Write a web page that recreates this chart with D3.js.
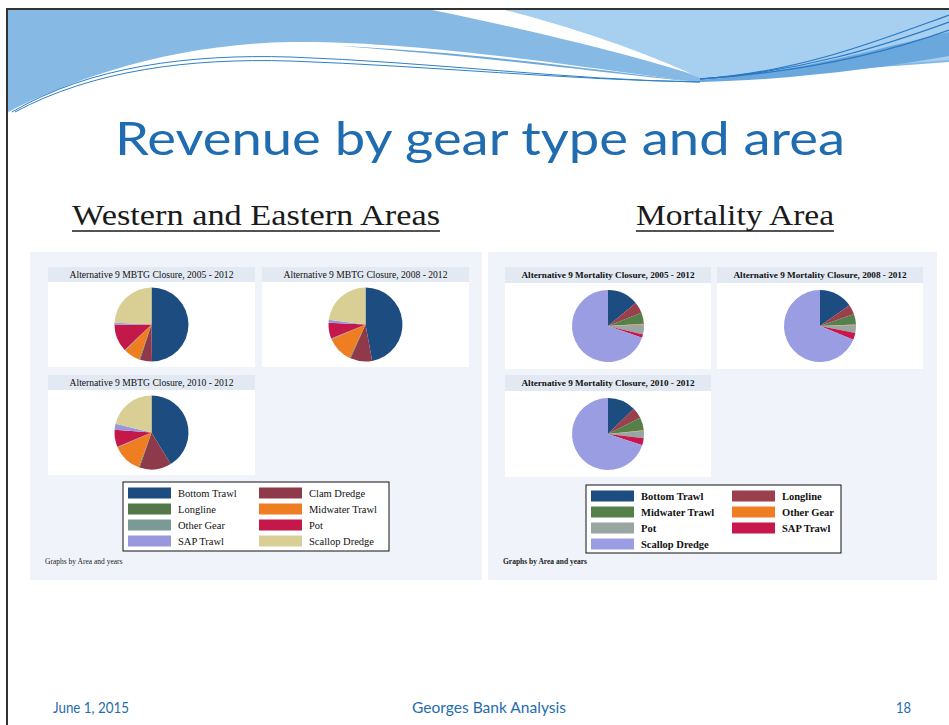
<!DOCTYPE html>
<html lang="en">
<head>
<meta charset="UTF-8">
<title>Revenue by gear type and area</title>
<script src="https://d3js.org/d3.v7.min.js"></script>
<style>
  body { margin: 0; background: #fff; }
  svg { display: block; }
</style>
</head>
<body>
<svg id="slide" width="949" height="725"></svg>
<script>
// ---- data (percent of revenue) ----
const westGears = ["Bottom Trawl", "Clam Dredge", "Longline", "Midwater Trawl", "Other Gear", "Pot", "SAP Trawl", "Scallop Dredge"];
const westColors = ["#1c4c80", "#8f3a4a", "#55784a", "#ef7d22", "#7a9a96", "#c4174a", "#9997dd", "#d9cf95"];
const westTitles = ["Alternative 9 MBTG Closure, 2005 - 2012", "Alternative 9 MBTG Closure, 2008 - 2012", "Alternative 9 MBTG Closure, 2010 - 2012"];
const west0512 = [49.8, 5.2, 0.4, 7.2, 0.3, 12.0, 0.8, 24.3];
const west0812 = [47.1, 9.5, 0.4, 11.5, 0.3, 7.0, 1.2, 23.0];
const west1012 = [41.3, 13.9, 0.4, 12.8, 0.3, 7.5, 2.6, 21.2];

const mortGears = ["Bottom Trawl", "Longline", "Midwater Trawl", "Other Gear", "Pot", "SAP Trawl", "Scallop Dredge"];
const mortColors = ["#1c4c80", "#9a3f4c", "#56804a", "#ef7d22", "#9aa6a2", "#c8174c", "#9b9de2"];
const mortTitles = ["Alternative 9 Mortality Closure, 2005 - 2012", "Alternative 9 Mortality Closure, 2008 - 2012", "Alternative 9 Mortality Closure, 2010 - 2012"];
const mort0512 = [14.0, 5.0, 5.0, 0.3, 4.5, 1.5, 69.7];
const mort0812 = [15.2, 4.4, 4.7, 0.3, 3.5, 3.1, 68.8];
const mort1012 = [12.7, 4.9, 5.7, 0.3, 3.3, 3.1, 70.0];

const svg = d3.select("#slide");
const blue = "#1f6db0";
const serif = "'Liberation Serif', 'DejaVu Serif', serif";

// ---- header wave ----
const head = svg.append("g");
head.append("path").attr("fill", "#86b9e3")
  .attr("d", "M6,10 L949,10 L949,62 C860,68 760,78 696,82 C600,70 420,40 290,42 C170,44 70,80 8,112 Z");
head.append("path").attr("fill", "#a6cff0")
  .attr("d", "M480,10 L949,10 L949,60 C860,66 770,74 700,78 C630,50 560,28 480,10 Z");
head.append("path").attr("fill", "#6fa9da")
  .attr("d", "M340,46 C470,52 600,70 696,82 C610,74 500,58 340,46 Z");
head.append("path").attr("fill", "#fff")
  .attr("d", "M432,10 C530,30 620,52 692,74 C630,46 560,24 505,10 Z");
head.append("path").attr("fill", "#6aa7dc")
  .attr("d", "M700,80 C790,74 880,48 949,32 L949,56 C880,68 790,80 700,82 Z");
[[0, 0], [3, 4]].forEach(([dx, dy]) => {
  head.append("path").attr("fill", "none").attr("stroke", "#2f7fc6").attr("stroke-width", 1)
    .attr("d", `M${12 + dx},${112} C${90 + dx},${66 + dy} ${190},${54 + dy} ${290},${57 + dy} C${430},${62 + dy} ${570},${80} ${700},${82}`);
});
[15, 22, 30].forEach(y => {
  head.append("path").attr("fill", "none").attr("stroke", "#2a78c4").attr("stroke-width", 1.2)
    .attr("d", `M700,79 C800,72 880,${y + 25} 949,${y}`);
});
// scan borders
svg.append("line").attr("x1", 6).attr("x2", 949).attr("y1", 9).attr("y2", 9).attr("stroke", "#333").attr("stroke-width", 2);
svg.append("line").attr("x1", 7).attr("x2", 7).attr("y1", 9).attr("y2", 725).attr("stroke", "#333").attr("stroke-width", 2);

// ---- titles ----
svg.append("text").attr("x", 480).attr("y", 155).attr("text-anchor", "middle")
  .attr("font-family", "Lato, 'Open Sans', sans-serif").attr("font-size", 47)
  .attr("fill", blue).attr("textLength", 730).attr("lengthAdjust", "spacingAndGlyphs")
  .text("Revenue by gear type and area");

function heading(x, w, label) {
  svg.append("text").attr("x", x).attr("y", 225).attr("font-family", serif).attr("font-size", 30)
    .attr("fill", "#1a1a1a").attr("textLength", w).attr("lengthAdjust", "spacingAndGlyphs").text(label);
  svg.append("line").attr("x1", x).attr("x2", x + w).attr("y1", 231).attr("y2", 231)
    .attr("stroke", "#1a1a1a").attr("stroke-width", 1.3);
}
heading(72, 368, "Western and Eastern Areas");
heading(636, 198, "Mortality Area");

// ---- stata style by-graph panel ----
function drawPanel(o) {
  const g = svg.append("g");
  g.append("rect").attr("x", o.x).attr("y", o.y).attr("width", o.w).attr("height", o.h).attr("fill", "#f0f4fa");

  const pie = d3.pie().sort(null).value(d => d);
  const arc = d3.arc().innerRadius(0).outerRadius(o.r);

  o.series.forEach((vals, i) => {
    const cx = o.cells[i][0], cy = o.cells[i][1];
    g.append("rect").attr("x", cx).attr("y", cy).attr("width", o.cw).attr("height", o.sh).attr("fill", "#e3e9f3");
    g.append("rect").attr("x", cx).attr("y", cy + o.sh).attr("width", o.cw).attr("height", o.ph).attr("fill", "#fff");
    g.append("text").attr("x", cx + o.cw / 2).attr("y", cy + 11).attr("text-anchor", "middle")
      .attr("font-family", serif).attr("font-size", o.tsize).attr("font-weight", o.bold ? "bold" : "normal")
      .attr("fill", "#111").text(o.titles[i]);
    g.append("g").attr("transform", `translate(${cx + o.cw / 2},${cy + o.sh + o.ph / 2})`)
      .selectAll("path").data(pie(vals)).join("path")
      .attr("d", arc).attr("fill", (d, j) => o.colors[j]);
  });

  // legend, row-major in two columns
  const L = o.legend;
  g.append("rect").attr("x", L.x).attr("y", L.y).attr("width", L.w).attr("height", L.h)
    .attr("fill", "#fff").attr("stroke", "#111").attr("stroke-width", 1);
  o.gears.forEach((name, j) => {
    const col = j % 2, row = Math.floor(j / 2);
    const sx = col ? L.sx2 : L.sx1, yc = L.y + 11 + row * 16;
    g.append("rect").attr("x", sx).attr("y", yc - 5.5).attr("width", 43).attr("height", 11).attr("fill", o.colors[j]);
    g.append("text").attr("x", sx + 50).attr("y", yc + 4).attr("font-family", serif).attr("font-size", 10.5)
      .attr("font-weight", o.bold ? "bold" : "normal").attr("fill", "#111").text(name);
  });
  g.append("text").attr("x", o.x + 15).attr("y", o.y + 312).attr("font-family", serif).attr("font-size", 7.5)
    .attr("font-weight", o.bold ? "bold" : "normal").attr("fill", "#222").text("Graphs by Area and years");
}

drawPanel({
  x: 30, y: 252, w: 452, h: 328, r: 37, cw: 207, sh: 15, ph: 85, tsize: 9.6, bold: false,
  cells: [[48, 267], [262, 267], [48, 375]],
  series: [west0512, west0812, west1012], titles: westTitles, gears: westGears, colors: westColors,
  legend: { x: 123, y: 482, w: 266, h: 69, sx1: 128, sx2: 259 }
});
drawPanel({
  x: 488, y: 252, w: 449, h: 328, r: 36, cw: 206, sh: 16, ph: 86, tsize: 9.2, bold: true,
  cells: [[505, 267], [717, 267], [505, 375]],
  series: [mort0512, mort0812, mort1012], titles: mortTitles, gears: mortGears, colors: mortColors,
  legend: { x: 586, y: 485, w: 255, h: 68, sx1: 591, sx2: 732 }
});

// ---- footer ----
const foot = "Lato, 'Open Sans', sans-serif";
function footer(x, w, label) {
  svg.append("text").attr("x", x).attr("y", 713).attr("font-family", foot).attr("font-size", 15)
    .attr("fill", blue).attr("textLength", w).attr("lengthAdjust", "spacingAndGlyphs").text(label);
}
footer(53, 76, "June 1, 2015");
footer(412, 154, "Georges Bank Analysis");
footer(896, 15, "18");
</script>
</body>
</html>
